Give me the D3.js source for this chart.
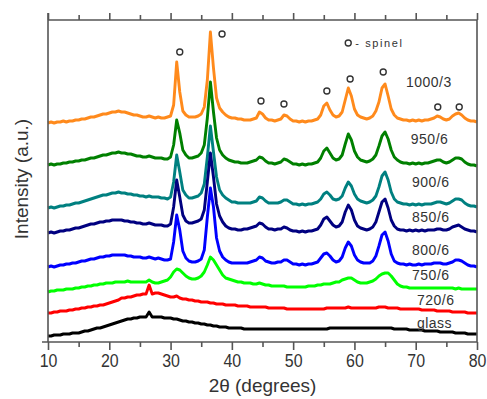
<!DOCTYPE html>
<html>
<head>
<meta charset="utf-8">
<script src="https://cdn.jsdelivr.net/npm/d3@7/dist/d3.min.js"></script>
<style>
  html, body { margin: 0; padding: 0; background: #fff; }
  svg text { font-family: "Liberation Sans", Arial, sans-serif; fill: #333; }
</style>
</head>
<body>
<div id="xrd"></div>
<script>
// 2theta sampling grid (degrees), one value every 0.5 deg from 10 to 80
const twoTheta = d3.range(10, 80.001, 0.5);

// intensities (a.u., already stacked), one per grid step
const i1000 = [219,220,219,220,220,221,220,221,221,222,222,223,223,224,225,225,226,227,228,228,229,230,230,231,230,230,229,228,227,227,226,225,225,226,225,224,225,224,224,225,226,237,280,250,231,227,225,225,225,226,228,235,262,310,274,244,234,230,227,225,224,224,223,223,222,222,222,223,224,230,228,224,222,222,221,222,223,227,226,223,221,221,220,221,220,221,221,222,223,227,236,239,232,227,225,226,230,242,254,246,233,227,225,224,223,224,226,231,240,254,258,246,233,227,224,223,222,222,221,222,221,222,221,222,222,223,224,226,225,223,222,223,226,228,229,227,224,222,221,221,220];
const i950 = [177,178,177,178,178,179,179,180,180,181,181,182,182,183,184,184,185,186,187,187,188,189,189,190,189,189,188,188,187,186,186,185,185,186,185,184,184,184,183,183,185,197,222,209,192,187,184,184,185,186,189,197,224,260,230,204,192,187,184,182,181,180,180,179,179,179,180,181,182,185,184,181,179,179,178,179,180,183,182,180,178,178,177,178,177,178,178,179,180,184,191,194,189,184,182,183,187,198,208,202,191,185,182,181,180,181,183,187,196,206,210,203,192,185,182,180,179,179,178,179,178,179,178,179,179,180,181,182,182,180,179,180,182,184,184,183,180,178,177,177,176];
const i900 = [134,135,134,135,136,136,137,137,138,139,139,140,141,142,143,144,145,146,147,147,148,149,149,150,149,149,148,148,147,147,146,146,145,146,145,145,145,144,144,143,145,160,187,170,152,147,144,144,145,146,149,158,185,216,190,165,152,147,144,142,140,140,139,139,139,139,139,140,141,145,144,141,139,139,139,139,140,142,142,140,138,138,137,138,137,138,138,139,140,143,148,150,147,143,142,143,146,154,160,156,148,143,141,140,139,140,142,146,155,166,170,162,150,143,140,139,138,138,137,138,137,138,137,138,138,138,139,140,140,139,138,139,141,143,143,142,139,137,136,136,135];
const i850 = [109,110,109,110,111,111,112,112,113,114,114,115,116,117,118,118,119,120,120,121,121,122,122,122,122,121,121,120,120,119,119,118,118,119,118,117,117,117,116,116,118,135,162,145,127,121,119,119,120,121,123,132,160,189,165,138,126,120,116,114,113,113,112,112,113,113,114,115,116,119,118,115,113,113,112,113,113,115,114,112,111,111,110,111,110,111,111,112,113,117,123,125,121,117,115,116,120,130,137,132,122,116,114,113,112,113,115,120,130,140,143,134,122,116,113,112,112,111,112,111,112,111,112,111,112,112,112,113,113,112,112,113,115,116,117,115,113,112,111,111,110];
const i800 = [75,76,75,76,77,77,78,78,79,79,80,81,81,82,83,83,84,85,85,86,86,87,87,87,87,87,86,86,85,85,85,84,84,85,84,83,84,83,82,82,83,100,127,112,91,84,81,80,80,81,83,92,125,154,135,104,91,85,82,80,79,79,79,79,79,79,80,81,82,85,84,81,80,79,79,80,80,82,82,80,78,78,77,78,77,78,78,79,80,84,88,89,86,82,80,81,85,94,100,96,87,82,80,79,79,79,81,86,96,107,110,101,88,81,79,78,78,77,78,77,77,78,77,78,78,78,79,79,79,78,78,79,80,82,82,81,79,77,76,76,75];
const i750 = [50,51,51,52,52,52,53,53,53,54,54,55,55,56,56,57,57,58,58,59,59,59,60,60,60,60,61,60,60,60,60,60,60,62,60,59,59,60,61,62,65,70,73,72,69,66,64,63,63,64,66,70,77,85,82,77,72,67,64,63,62,61,60,60,59,59,59,58,58,59,58,57,57,56,56,56,56,56,55,55,55,55,55,55,55,56,56,56,57,57,58,58,58,59,60,60,62,63,64,64,62,60,59,59,59,60,61,63,66,68,69,69,66,62,58,56,55,55,54,54,54,54,54,54,54,54,54,54,54,54,54,54,54,53,54,53,53,53,53,53,53];
const i720 = [29,29,30,30,31,31,31,32,32,33,33,34,34,35,35,36,36,37,37,38,39,40,41,42,44,44,45,45,46,47,47,48,48,57,48,49,49,48,47,46,45,45,46,44,43,43,42,42,41,41,40,40,40,39,39,38,38,38,37,37,37,37,36,36,36,36,35,35,35,35,35,35,34,34,34,34,34,34,33,33,33,33,33,33,33,33,33,33,33,33,33,34,34,34,34,34,34,34,35,34,34,34,34,34,34,34,34,34,35,35,35,34,34,34,34,33,33,33,33,33,33,33,32,32,32,32,32,31,31,31,31,31,30,30,30,30,30,29,29,29,29];
const iGlass = [6,6,7,7,7,8,8,8,9,9,9,10,11,11,12,13,14,14,15,16,17,18,19,20,21,22,23,23,24,24,25,25,25,30,25,25,25,25,24,24,24,23,23,22,21,21,20,20,19,19,18,18,17,17,16,16,15,15,15,14,14,14,14,14,13,13,13,13,13,13,13,13,13,13,13,13,13,13,13,13,13,13,13,13,13,13,13,13,13,13,13,13,14,14,14,14,14,14,14,14,14,14,14,14,14,14,14,14,14,14,14,14,14,13,13,13,13,13,12,12,12,12,12,11,11,11,11,11,10,10,10,10,10,9,9,9,9,8,8,8,8];

const sampleNames = ["1000/3", "950/6", "900/6", "850/6", "800/6", "750/6", "720/6", "glass"];
const sampleColors = ["#ff8a1c", "#008000", "#008080", "#000080", "#0000ff", "#00ff00", "#ff0000", "#000000"];
// where each sample name sits (2theta, a.u.)
const labelTheta = [68.4, 69.2, 69.4, 69.4, 69.4, 69.4, 70.2, 70.2];
const labelLevel = [260, 203, 160, 125, 92, 67, 42, 19];

// spinel reflections marked with "o" above the 1000/3 pattern
const spinelTheta = [31.5, 38.4, 44.75, 48.5, 55.5, 59.3, 64.7, 73.6, 77.1];
const spinelLevel = [290, 308, 241, 238, 251, 263, 270, 235, 235];

const xTicks = [10, 20, 30, 40, 50, 60, 70, 80];
const xMinorTicks = [15, 25, 35, 45, 55, 65, 75];

const series = [i1000, i950, i900, i850, i800, i750, i720, iGlass];

const width = 487, height = 399;
const margin = {top: 20, right: 10, bottom: 57, left: 48};
const plotW = width - margin.left - margin.right;
const plotH = height - margin.top - margin.bottom;

const svg = d3.select("#xrd").append("svg")
    .attr("width", width)
    .attr("height", height);

const x = d3.scaleLinear().domain([10, 80]).range([margin.left, margin.left + plotW]);
const y = d3.scaleLinear().domain([0, 322]).range([margin.top + plotH, margin.top]);

const line = d3.line()
    .x((d, i) => x(twoTheta[i]))
    .y(d => y(d));

//Draw the patterns top to bottom so the lower ones sit on top
//(the thick stroke stands in for the counting noise band of the scans)
svg.append("g").selectAll("path")
    .data(series)
    .enter()
    .append("path")
    .attr("d", d => line(d))
    .attr("fill", "none")
    .attr("stroke", (d, i) => sampleColors[i])
    .attr("stroke-width", 2.9)
    .attr("stroke-linejoin", "round");

//Frame
const axisColor = "#555";
const frame = svg.append("g").attr("stroke", axisColor).attr("stroke-width", 1.6);
frame.append("line").attr("x1", x(10)).attr("x2", x(10)).attr("y1", margin.top - 7).attr("y2", y(0));
frame.append("line").attr("x1", x(80)).attr("x2", x(80)).attr("y1", margin.top).attr("y2", y(0));
frame.append("line").attr("x1", x(10)).attr("x2", x(80)).attr("y1", margin.top).attr("y2", margin.top);
frame.append("line").attr("x1", x(10) - 6).attr("x2", x(80)).attr("y1", y(0)).attr("y2", y(0));

//Bottom axis, major and minor ticks
const bottomAxis = svg.append("g").attr("transform", "translate(0," + y(0) + ")");
bottomAxis.call(d3.axisBottom(x).tickValues(xTicks).tickSize(8).tickSizeOuter(0).tickPadding(4));
bottomAxis.append("g").call(d3.axisBottom(x).tickValues(xMinorTicks).tickSize(5).tickFormat(""));
bottomAxis.selectAll(".domain").remove();
bottomAxis.selectAll("line").attr("stroke", axisColor).attr("stroke-width", 1.6);
//labels in the picture are tall and narrow
bottomAxis.selectAll(".tick text")
    .style("font-size", "19px")
    .attr("fill", "#333")
    .attr("transform", "scale(0.84,1)")
    .attr("x", function() { return 0; });
bottomAxis.selectAll(".tick").each(function() {
    const t = d3.select(this);
    const tx = +t.attr("transform").match(/translate\(([^,]+)/)[1];
    t.attr("transform", "translate(" + tx + ",0)");
});

//Top axis, ticks only
const topAxis = svg.append("g").attr("transform", "translate(0," + margin.top + ")");
topAxis.call(d3.axisTop(x).tickValues(xTicks).tickSize(7).tickFormat(""));
topAxis.append("g").call(d3.axisTop(x).tickValues(xMinorTicks).tickSize(5).tickFormat(""));
topAxis.selectAll(".domain").remove();
topAxis.selectAll("line").attr("stroke", axisColor).attr("stroke-width", 1.6);

//Axis titles
svg.append("text")
    .attr("x", (x(10) + x(80)) / 2)
    .attr("y", 392)
    .attr("text-anchor", "middle")
    .style("font-size", "19px")
    .text("2θ (degrees)");

svg.append("text")
    .attr("transform", "translate(28," + (margin.top + 159) + ") rotate(-90)")
    .attr("text-anchor", "middle")
    .style("font-size", "19px")
    .text("Intensity (a.u.)");

//Sample names
svg.append("g").selectAll("text")
    .data(sampleNames)
    .enter()
    .append("text")
    .attr("x", (d, i) => x(labelTheta[i]))
    .attr("y", (d, i) => y(labelLevel[i]))
    .attr("dy", "0.36em")
    .style("font-size", "14px")
    .style("letter-spacing", "0.5px")
    .text(d => d);

//Spinel markers
svg.append("g").selectAll("circle")
    .data(spinelTheta)
    .enter()
    .append("circle")
    .attr("cx", d => x(d))
    .attr("cy", (d, i) => y(spinelLevel[i]))
    .attr("r", 3)
    .attr("fill", "none")
    .attr("stroke", "#333")
    .attr("stroke-width", 1.4);

//Legend
svg.append("circle")
    .attr("cx", x(58.5) + 3)
    .attr("cy", y(299))
    .attr("r", 3)
    .attr("fill", "none")
    .attr("stroke", "#333")
    .attr("stroke-width", 1.4);
svg.append("text")
    .attr("x", x(58.5) + 10)
    .attr("y", y(299))
    .attr("dy", "0.36em")
    .style("font-size", "11px")
    .style("letter-spacing", "1.6px")
    .text("- spinel");
</script>
</body>
</html>
